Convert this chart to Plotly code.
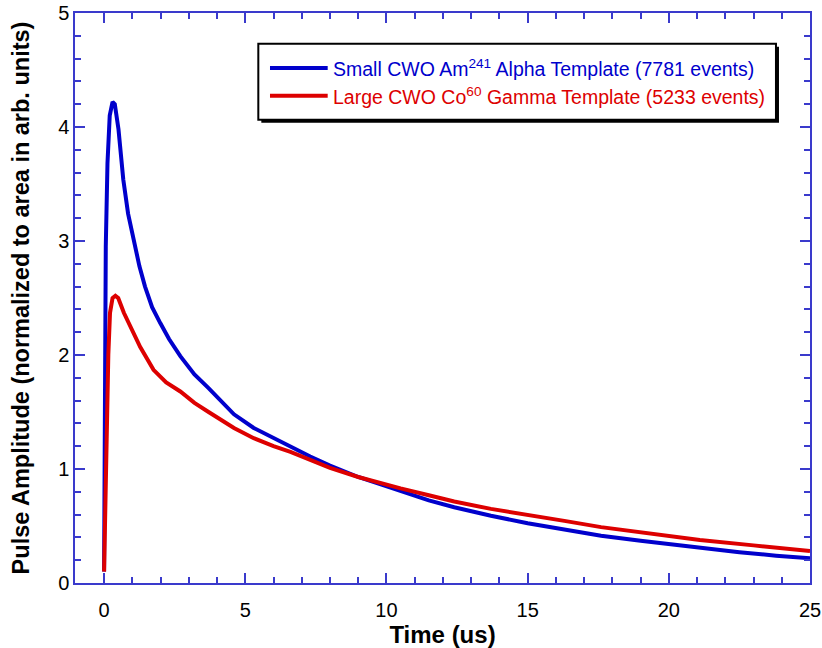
import plotly.graph_objects as go

# Pulse templates (time in us, amplitude normalized to area)
alpha_t = [0.0, 0.02, 0.04, 0.06, 0.12, 0.2, 0.3, 0.38, 0.51, 0.68, 0.85, 1.04, 1.25, 1.45, 1.7, 1.99,
           2.3, 2.7, 3.2, 3.7, 4.0, 4.6, 5.3, 6.0, 6.6, 7.3, 8.0, 9.0, 9.8, 10.5, 11.5, 12.4, 13.7,
           15.0, 16.3, 17.6, 19.0, 20.0, 21.1, 22.5, 23.8, 25.0]
alpha_amp = [0.1, 1.0, 2.0, 2.95, 3.68, 4.1, 4.22, 4.2, 3.98, 3.54, 3.24, 3.01, 2.78, 2.60, 2.42, 2.28,
             2.14, 1.99, 1.83, 1.71, 1.63, 1.48, 1.36, 1.27, 1.20, 1.11, 1.03, 0.93, 0.865, 0.81, 0.725, 0.665, 0.59,
             0.524, 0.47, 0.415, 0.37, 0.34, 0.305, 0.27, 0.24, 0.217]

gamma_t = [0.0, 0.05, 0.1, 0.15, 0.21, 0.3, 0.4, 0.5, 0.7, 0.92, 1.28, 1.75, 2.2, 2.7, 3.2, 3.7, 4.0,
           4.6, 5.3, 6.0, 6.6, 7.3, 8.0, 9.0, 9.8, 10.5, 11.5, 12.4, 13.7, 15.0, 16.3, 17.6, 19.4,
           21.1, 23.0, 25.0]
gamma_amp = [0.1, 0.8, 1.49, 2.0, 2.37, 2.5, 2.52, 2.5, 2.37, 2.25, 2.07, 1.87, 1.76, 1.68, 1.58, 1.50, 1.45,
             1.36, 1.27, 1.20, 1.15, 1.08, 1.01, 0.93, 0.875, 0.83, 0.77, 0.715, 0.65, 0.60, 0.545, 0.49, 0.43,
             0.378, 0.33, 0.28]

names = ["Small CWO Am<sup>241</sup> Alpha Template (7781 events)",
         "Large CWO Co<sup>60</sup> Gamma Template (5233 events)"]

blue = "#0000cc"
red = "#dd0000"
axis_col = "#3a3acc"
font = "Liberation Sans, Arial"

fig = go.Figure()
fig.add_trace(go.Scatter(x=alpha_t, y=alpha_amp, mode="lines", line=dict(color=blue, width=4), name=names[0]))
fig.add_trace(go.Scatter(x=gamma_t, y=gamma_amp, mode="lines", line=dict(color=red, width=4), name=names[1]))

# legend drawn by hand: shadow, box, line samples and coloured labels
fig.add_shape(type="rect", xref="paper", yref="paper", x0=0.2535, x1=0.9578, y0=0.8075, y1=0.9409,
              fillcolor="black", line=dict(width=0), layer="above")
fig.add_shape(type="rect", xref="paper", yref="paper", x0=0.2494, x1=0.9537, y0=0.8128, y1=0.9461,
              fillcolor="white", line=dict(color="black", width=2), layer="above")
rows = [0.9035, 0.8549]
for name, col, yy in zip(names, [blue, red], rows):
    fig.add_shape(type="line", xref="paper", yref="paper", x0=0.2653, x1=0.3438, y0=yy, y1=yy,
                  line=dict(color=col, width=4), layer="above")
    fig.add_annotation(xref="paper", yref="paper", x=0.3480, y=yy, xanchor="left", yanchor="middle",
                       text=name, showarrow=False, font=dict(family=font, size=19.5, color=col))

axis_common = dict(showline=True, linecolor=axis_col, linewidth=1.5, mirror="ticks", ticks="inside",
                   tickcolor=axis_col, tickwidth=1.5, ticklen=10, showgrid=False, zeroline=False,
                   automargin=False, ticklabeloverflow="allow",
                   tickfont=dict(family=font, size=20, color="black"))

fig.update_xaxes(range=[-1.03, 25], dtick=5, tick0=0, ticklabelstandoff=8,
                 minor=dict(ticks="inside", ticklen=6, dtick=1, tickcolor=axis_col, tickwidth=1.5),
                 title=dict(text="<b>Time (us)</b>", font=dict(family=font, size=24, color="black"),
                            standoff=3),
                 **axis_common)
fig.update_yaxes(range=[0, 5], dtick=1, ticklabelstandoff=0,
                 minor=dict(ticks="inside", ticklen=6, dtick=0.2, tickcolor=axis_col, tickwidth=1.5),
                 title=dict(text="<b>Pulse Amplitude (normalized to area in arb. units)</b>",
                            font=dict(family=font, size=23.5, color="black"), standoff=22),
                 **axis_common)

fig.update_layout(
    width=822, height=648,
    margin=dict(l=75, r=12, t=13, b=65),
    plot_bgcolor="white", paper_bgcolor="white",
    showlegend=False,
)

# drop the page's default body margin so the figure fills the window exactly
fig.write_html("out.html", config={"displayModeBar": False},
               post_script="document.body.style.margin='0';")
